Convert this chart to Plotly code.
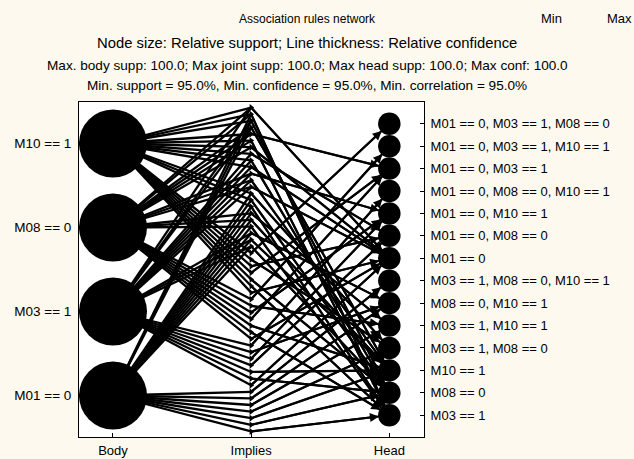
import plotly.graph_objects as go

# ---------------- data ----------------
item_labels = {"M01": "M01 == 0", "M03": "M03 == 1", "M08": "M08 == 0", "M10": "M10 == 1"}

# body nodes, bottom -> top
body_items = ["M01", "M03", "M08", "M10"]
body_support = [100.0, 100.0, 100.0, 100.0]

# head nodes (item sets), bottom -> top
head_sets = ["M03", "M08", "M10", "M03,M08", "M03,M10", "M08,M10", "M03,M08,M10",
             "M01", "M01,M08", "M01,M10", "M01,M08,M10", "M01,M03", "M01,M03,M10",
             "M01,M03,M08"]
head_support = [100.0, 100.0, 100.0, 100.0, 100.0, 100.0, 100.0,
                100.0, 100.0, 100.0, 100.0, 100.0, 100.0, 100.0]

# rules in order along the "Implies" column, bottom -> top
rule_bodies = [
    "M01", "M01", "M01", "M01", "M01", "M01", "M01",
    "M03", "M03", "M03", "M03", "M03", "M03", "M03",
    "M08", "M08", "M08", "M08", "M08", "M08", "M08",
    "M10", "M10", "M10", "M10", "M10", "M10", "M10",
    "M01,M03", "M01,M03", "M01,M03",
    "M01,M08", "M01,M08", "M01,M08",
    "M01,M10", "M01,M10", "M01,M10",
    "M03,M08", "M03,M08", "M03,M08",
    "M03,M10", "M03,M10", "M03,M10",
    "M08,M10", "M08,M10", "M08,M10",
    "M01,M03,M08", "M01,M03,M10", "M01,M08,M10", "M03,M08,M10",
]
rule_heads = [
    "M03", "M08", "M10", "M03,M08", "M03,M10", "M08,M10", "M03,M08,M10",
    "M01", "M08", "M10", "M01,M08", "M01,M10", "M08,M10", "M01,M08,M10",
    "M01", "M03", "M10", "M01,M03", "M01,M10", "M03,M10", "M01,M03,M10",
    "M01", "M03", "M08", "M01,M03", "M01,M08", "M03,M08", "M01,M03,M08",
    "M08", "M10", "M08,M10",
    "M03", "M10", "M03,M10",
    "M03", "M08", "M03,M08",
    "M01", "M10", "M01,M10",
    "M01", "M08", "M01,M08",
    "M01", "M03", "M01,M03",
    "M10", "M08", "M03", "M01",
]

columns = ["Body", "Implies", "Head"]
title_lines = [
    "Association rules network",
    "Node size: Relative support; Line thickness: Relative confidence",
    "Max. body supp: 100.0; Max joint supp: 100.0; Max head supp: 100.0; Max conf: 100.0",
    "Min. support = 95.0%, Min. confidence = 95.0%, Min. correlation = 95.0%",
]
legend_words = ["Min", "Max"]

# ---------------- layout helpers ----------------
Y_CENTER = 167.5


def column_positions(n, step):
    return [Y_CENTER + (i - (n - 1) / 2.0) * step for i in range(n)]


body_y = dict(zip(body_items, column_positions(len(body_items), 84.0)))
head_y = dict(zip(head_sets, column_positions(len(head_sets), 22.42)))
imp_y = column_positions(len(rule_bodies), 6.61)
XB, XI, XH = 0, 1, 2

FONT = "Liberation Sans, Arial, sans-serif"
BG = "#fdf9ee"

fig = go.Figure()

# body -> implies edges
ex, ey = [], []
for i, b in enumerate(rule_bodies):
    for it in b.split(","):
        ex += [XB, XI, None]
        ey += [body_y[it], imp_y[i], None]
fig.add_trace(go.Scatter(x=ex, y=ey, mode="lines",
                         line=dict(color="black", width=2.3), hoverinfo="skip"))

# implies -> head edges
hx, hy = [], []
for i, h in enumerate(rule_heads):
    hx += [XI, XH, None]
    hy += [imp_y[i], head_y[h], None]
fig.add_trace(go.Scatter(x=hx, y=hy, mode="lines",
                         line=dict(color="black", width=2.2), hoverinfo="skip"))

# implies points
fig.add_trace(go.Scatter(x=[XI] * len(imp_y), y=imp_y, mode="markers",
                         marker=dict(symbol="triangle-right", size=6, color="black",
                                     opacity=1),
                         hoverinfo="skip"))

# body nodes
fig.add_trace(go.Scatter(x=[XB] * len(body_items), y=[body_y[b] for b in body_items],
                         mode="markers",
                         marker=dict(size=[s * 0.68 for s in body_support], color="black",
                                     opacity=1, line=dict(width=0)),
                         hoverinfo="skip"))

# head nodes (on right axis)
fig.add_trace(go.Scatter(x=[XH] * len(head_sets), y=[head_y[h] for h in head_sets],
                         mode="markers", yaxis="y2",
                         marker=dict(size=[s * 0.225 for s in head_support], color="black",
                                     opacity=1, line=dict(width=0)),
                         hoverinfo="skip"))

annotations = []
# arrow heads at head nodes
for i, h in enumerate(rule_heads):
    annotations.append(dict(x=XH, y=head_y[h], ax=XI, ay=imp_y[i], xref="x", yref="y",
                            axref="x", ayref="y", text="", showarrow=True,
                            arrowhead=2, arrowsize=0.9, arrowwidth=2.0,
                            arrowcolor="black", standoff=10.5))

# title lines (positions in px converted to paper coords)
PL, PR, PT, PB = 79, 424, 102, 437


def px_x(px):
    return (px - PL) / (PR - PL)


def px_y(py):
    return (PB - py) / (PB - PT)


for txt, ypx, fs in zip(title_lines, [19, 43, 65, 86], [12, 14.8, 13.6, 13.6]):
    annotations.append(dict(text=txt, x=px_x(307), y=px_y(ypx), xref="paper", yref="paper",
                            showarrow=False, xanchor="center", yanchor="middle",
                            font=dict(family=FONT, size=fs, color="black")))
annotations.append(dict(text=legend_words[0], x=px_x(551), y=px_y(18), xref="paper",
                        yref="paper", showarrow=False, xanchor="center", yanchor="middle",
                        font=dict(family=FONT, size=13, color="black")))
annotations.append(dict(text=legend_words[1], x=px_x(605), y=px_y(18), xref="paper",
                        yref="paper", showarrow=False, xanchor="left", yanchor="middle",
                        font=dict(family=FONT, size=13, color="black")))

axis_common = dict(showgrid=False, zeroline=False, showline=True, linecolor="black",
                   linewidth=1, ticks="inside", ticklen=4, tickcolor="black",
                   automargin=False)

fig.update_layout(
    width=634, height=459,
    margin=dict(l=PL, r=634 - PR, t=PT, b=459 - PB, pad=0, autoexpand=False),
    paper_bgcolor=BG, plot_bgcolor="white",
    showlegend=False, hovermode=False,
    annotations=annotations,
    xaxis=dict(range=[-0.246, 2.251], tickvals=[XB, XI, XH], ticktext=columns,
               mirror=True, ticklabelstandoff=1,
               tickfont=dict(family=FONT, size=13, color="black"), **axis_common),
    yaxis=dict(range=[0, PB - PT], tickvals=[body_y[b] for b in body_items],
               ticktext=[item_labels[b] for b in body_items], mirror=True,
               ticklabelstandoff=4,
               tickfont=dict(family=FONT, size=13.5, color="black"), **axis_common),
    yaxis2=dict(range=[0, PB - PT], overlaying="y", side="right",
                tickvals=[head_y[h] for h in head_sets],
                ticktext=[", ".join(item_labels[k] for k in h.split(",")) for h in head_sets],
                ticklabelstandoff=3,
                tickfont=dict(family=FONT, size=13, color="black"), **axis_common),
)

page_fix = ("document.body.style.margin='0';document.body.style.padding='0';"
            "document.body.style.overflow='hidden';"
            "document.documentElement.style.overflow='hidden';"
            "document.body.style.background='" + BG + "';")
fig.write_html("out.html", post_script=page_fix,
               config={"displayModeBar": False, "staticPlot": True})
